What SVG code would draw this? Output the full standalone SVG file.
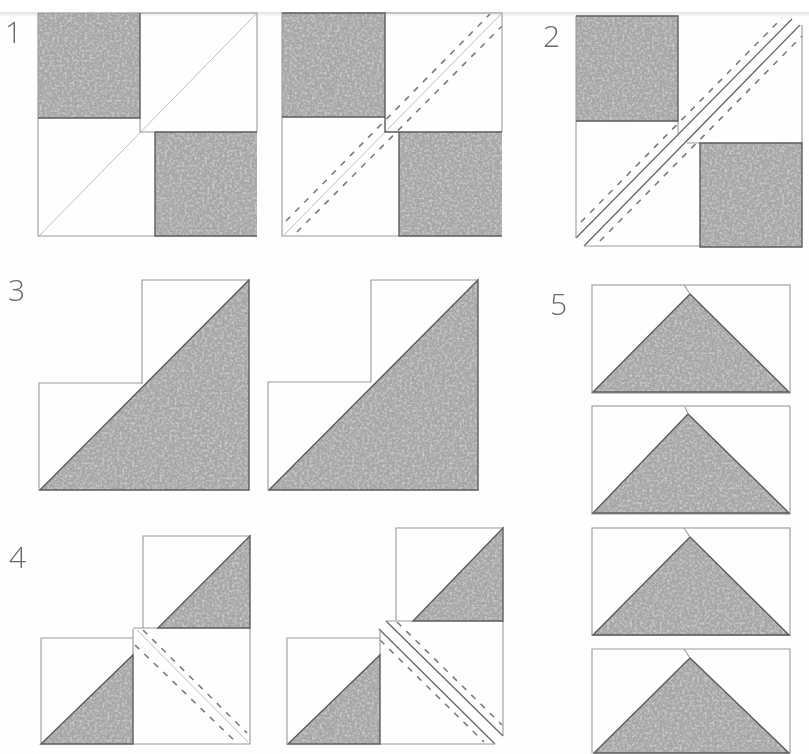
<svg xmlns="http://www.w3.org/2000/svg" width="809" height="754" viewBox="0 0 809 754">
<style>
.g{fill:#a6a6a6;stroke:none;filter:url(#speck)}
.e{fill:none;stroke:#9a9a9a;stroke-width:1.1}
.k{fill:none;stroke:#5c5c5c;stroke-width:1.4}
.l{fill:none;stroke:#c0c0c0;stroke-width:1}
.s{fill:none;stroke:#666;stroke-width:1.3}
.d{fill:none;stroke:#7c7c7c;stroke-width:1.6;stroke-dasharray:6 7}
.n{font-family:"Open Sans","Liberation Sans",sans-serif;font-weight:300;font-size:30px;fill:#6a6a6a}
</style>
<defs>
<linearGradient id="shade" x1="0" y1="0" x2="0" y2="1"><stop offset="0" stop-color="#dcdcdc"/><stop offset="1" stop-color="#ffffff"/></linearGradient>
<filter id="speck" x="0" y="0" width="1" height="1">
<feTurbulence type="fractalNoise" baseFrequency="0.4" numOctaves="2" seed="4" result="t"/>
<feColorMatrix in="t" type="matrix" values="0 0 0 0 1 0 0 0 0 1 0 0 0 0 1 0 0 0 0.9 -0.38" result="w"/>
<feComposite in="w" in2="SourceAlpha" operator="in" result="c"/>
<feMerge><feMergeNode in="SourceGraphic"/><feMergeNode in="c"/></feMerge>
</filter>
<filter id="soft" x="0" y="0" width="809" height="754" filterUnits="userSpaceOnUse"><feGaussianBlur stdDeviation="0.55"/></filter>
</defs>
<rect width="809" height="754" fill="#fefefe"/>
<rect x="0" y="11" width="809" height="6" fill="url(#shade)"/>
<rect x="0" y="0" width="809" height="12" fill="#ffffff"/>
<g id="connectors" filter="url(#soft)">
<path class="l" d="M39,236 L257,13"/>
<path class="l" d="M284,235 L501,14"/>
<path class="d" d="M286,221 L490,14"/>
<path class="d" d="M297,232 L502,26"/>
<path class="s" d="M576,238 L792,19"/>
<path class="s" d="M584,246 L800,25"/>
<path class="d" d="M581,222 L782,18"/>
<path class="d" d="M600,241 L802,36"/>
<path class="l" d="M137,630 L248,742"/>
<path class="d" d="M143,630 L247,733"/>
<path class="d" d="M135,645 L238,744"/>
<path class="s" d="M386,621 L503,736"/>
<path class="s" d="M379,629 L495,744"/>
<path class="d" d="M397,622 L502,725"/>
<path class="d" d="M380,640 L484,742"/>
</g>
<g id="block-1a" filter="url(#soft)">
<rect class="g" x="38" y="13" width="102" height="105"/>
<rect class="g" x="155" y="132" width="102" height="104"/>
<path class="e" d="M38,13 H140 M38,13 V118 M38,118 V236 H155 M140,13 H257 V132 M140,118 V132 H155"/>
<path class="k" d="M140,13 V118 H38 M155,132 H257 M155,132 V236 H257"/>
</g>
<g id="block-1b" filter="url(#soft)">
<rect class="g" x="282" y="13" width="103" height="104"/>
<rect class="g" x="399" y="132" width="103" height="104"/>
<path class="e" d="M282,13 V236 H399 M385,13 H502 V132"/>
<path class="k" d="M282,13 H385 V117 H282 M385,117 V132 H502 M399,132 V236 H502"/>
</g>
<g id="block-2" filter="url(#soft)">
<rect class="g" x="576" y="16" width="102" height="105"/>
<rect class="g" x="700" y="143" width="102" height="104"/>
<path class="e" d="M576,16 V238 M584,246 H700 M678,121 V136 M802,25 V143 M687,143 H700"/>
<path class="k" d="M576,16 H678 V121 H576 M700,143 H802 V247 H700 Z"/>
</g>
<g id="block-3a" filter="url(#soft)">
<path class="g" d="M40,490 L249,280 V490 Z"/>
<path class="e" d="M142,384 V280 H249 M142,383 H39 V490"/>
<path class="k" d="M40,490 L249,280 V490 Z"/>
</g>
<g id="block-3b" filter="url(#soft)">
<path class="g" d="M269,490 L478,280 V490 Z"/>
<path class="e" d="M371,382 V280 H478 M371,382 H268 V490"/>
<path class="k" d="M269,490 L478,280 V490 Z"/>
</g>
<g id="block-4a" filter="url(#soft)">
<path class="g" d="M158,628 L250,536 V628 Z"/>
<path class="g" d="M41,744 L133,655 V744 Z"/>
<path class="e" d="M143,628 V536 H250 M133,638 H41 V744 M133,629 V655 M133,628 H158 M250,628 V744 H133"/>
<path class="k" d="M158,628 L250,536 V628 Z M41,744 L133,655 V744 Z"/>
</g>
<g id="block-4b" filter="url(#soft)">
<path class="g" d="M413,621 L503,528 V621 Z"/>
<path class="g" d="M288,744 L380,655 V744 Z"/>
<path class="e" d="M396,621 V528 H503 M380,638 H287 V744 M380,629 V655 M386,621 H413 M503,621 V736 M380,744 H495"/>
<path class="k" d="M413,621 L503,528 V621 Z M288,744 L380,655 V744 Z"/>
</g>
<g id="block-5a" filter="url(#soft)">
<path class="g" d="M593,392 L690,294 L789,392 Z"/>
<rect class="e" x="592" y="285" width="198" height="108"/>
<path class="k" d="M593,392 L690,294 L789,392 Z"/>
<path class="e" d="M684,285 L690,294"/>
</g>
<g id="block-5b" filter="url(#soft)">
<path class="g" d="M593,513 L688,414 L789,513 Z"/>
<rect class="e" x="592" y="406" width="198" height="108"/>
<path class="k" d="M593,513 L688,414 L789,513 Z"/>
<path class="e" d="M685,407 L688,414"/>
</g>
<g id="block-5c" filter="url(#soft)">
<path class="g" d="M593,635 L690,537 L789,635 Z"/>
<rect class="e" x="592" y="528" width="198" height="107"/>
<path class="k" d="M593,635 L690,537 L789,635 Z"/>
<path class="e" d="M684,528 L690,537"/>
</g>
<g id="block-5d" filter="url(#soft)">
<path class="g" d="M594,753 L690,658 L789,753 Z"/>
<path class="e" d="M592,753 V649 H790 V753"/>
<path class="k" d="M594,753 L690,658 L789,753 Z"/>
<path class="e" d="M684,649 L690,658"/>
</g>
<g id="labels">
<text class="n" x="5" y="43">1</text>
<text class="n" x="543" y="47">2</text>
<text class="n" x="8" y="301">3</text>
<text class="n" x="9" y="568">4</text>
<text class="n" x="550" y="315">5</text>
</g>
</svg>
